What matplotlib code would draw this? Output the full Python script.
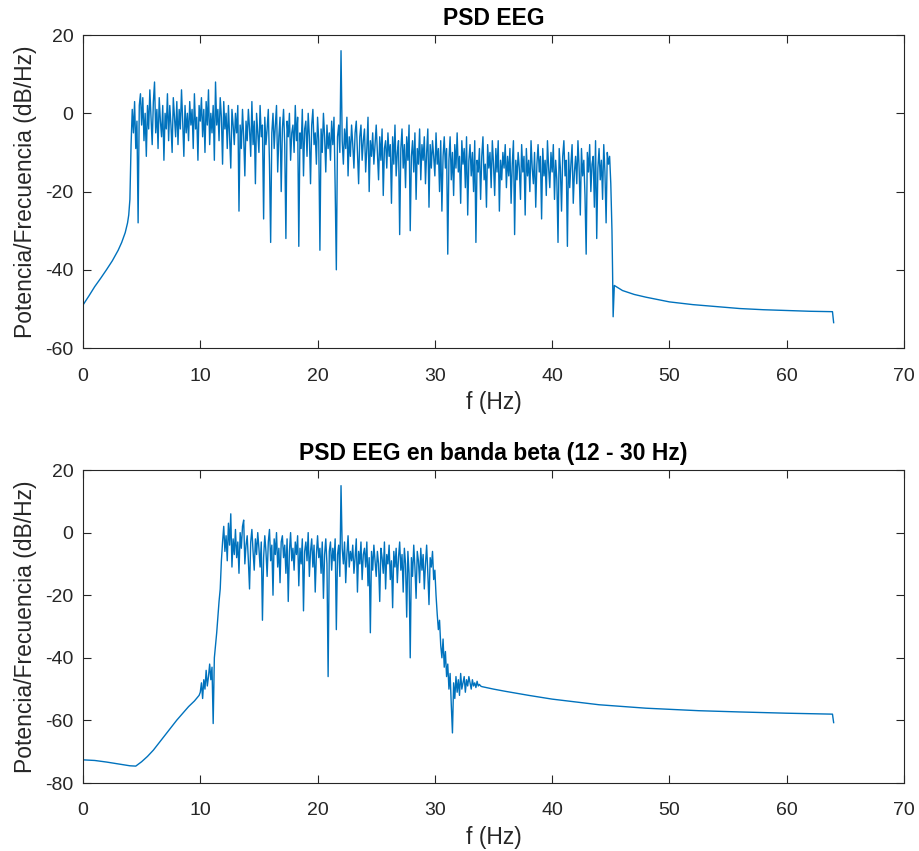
import numpy as np
import matplotlib.pyplot as plt

plt.rcParams['font.family'] = ['Liberation Sans', 'DejaVu Sans']
plt.rcParams['axes.unicode_minus'] = False

# ---- PSD EEG (full band) ----
# smooth rise before the band
f1_low = [0, 0.5, 1, 1.5, 2, 2.5, 3, 3.3, 3.6, 3.8, 3.9]
p1_low = [-49, -46.7, -44.3, -42.2, -40, -37.7, -35, -33, -30.5, -28, -26]

# noisy band 4.0 .. 45.1 Hz, step 0.1 Hz (one row per Hz)
p1_band = [
    -22, -8, 1, -5, 3, -9, -2, -28, 2, 5,
    -3, 4, -7, 0, -11, 2, -4, 6, -1, -8,
    3, 8, -5, 1, -9, 4, -2, -6, 2, -12,
    0, -4, 5, -7, 2, -3, -10, 4, -1, -6,
    3, -8, 1, -4, 6, -2, -11, 2, -5, 0,
    -7, 3, -3, 1, -9, 5, -4, -1, -12, 2,
    -2, 4, -6, 1, -10, 3, -3, 6, -8, 0,
    -5, 2, -12, 8, -3, 1, -7, 4, -1, -13,
    3, -4, 0, -9, 2, -6, -14, 1, -3, -8,
    0, -5, 2, -25, -3, -9, 1, -6, -16, -2,
    -7, 1, -4, -11, 3, -8, -2, -18, 0, -5,
    -10, 2, -6, -3, -27, -1, -8, -4, 1, -13,
    -33, -5, 0, -9, -3, 2, -15, -6, -1, -20,
    -4, 1, -8, -32, -2, -6, 0, -12, -5, -3,
    -10, 2, -7, -1, -34, -5, -9, 1, -16, -4,
    -2, -11, 0, -6, -18, -3, 1, -8, -5, -13,
    -1, -7, -35, -4, -10, 0, -6, -15, -3, -9,
    -5, -12, -2, -8, -1, -19, -40, -6, -3, -10,
    16, -7, -13, -4, -9, -1, -16, -6, -11, -3,
    -8, -14, -5, -2, -10, -18, -6, -3, -12, -7,
    -4, -15, -9, -1, -20, -7, -11, -5, -13, -8,
    -3, -10, -17, -6, -12, -4, -21, -9, -7, -14,
    -5, -11, -8, -23, -6, -13, -3, -16, -10, -7,
    -31, -9, -4, -14, -8, -19, -6, -12, -3, -30,
    -11, -7, -15, -5, -22, -9, -13, -4, -17, -8,
    -12, -6, -18, -10, -4, -24, -8, -14, -7, -11,
    -16, -5, -13, -9, -20, -7, -25, -11, -6, -14,
    -9, -36, -12, -6, -17, -10, -21, -8, -14, -5,
    -15, -11, -23, -7, -13, -9, -19, -6, -26, -12,
    -8, -16, -10, -20, -7, -33, -12, -15, -9, -22,
    -11, -6, -17, -13, -24, -8, -14, -10, -19, -7,
    -13, -21, -9, -15, -7, -25, -12, -17, -10, -14,
    -8, -19, -11, -16, -9, -23, -13, -7, -31, -12,
    -17, -10, -14, -22, -8, -15, -11, -26, -9, -16,
    -12, -20, -7, -14, -18, -10, -24, -13, -8, -15,
    -11, -27, -9, -16, -12, -21, -7, -14, -19, -10,
    -15, -8, -22, -12, -17, -33, -9, -14, -25, -11,
    -7, -16, -12, -34, -10, -19, -13, -8, -23, -15,
    -11, -18, -7, -14, -26, -9, -16, -12, -21, -36,
    -10, -15, -8, -20, -13, -11, -24, -7, -32, -14,
    -9, -17, -12, -22, -8, -15, -28, -10, -13, -11,
    -18, -30,
]
f1_band_start, f1_band_step = 4.0, 0.1

# tail after the band
f1_high = [45.15, 45.2, 45.3, 46, 47, 48, 50, 52, 54, 56, 58, 60, 62, 63.9, 64]
p1_high = [-40, -52, -44, -45.3, -46.3, -47, -48.2, -48.9, -49.4, -49.9, -50.2,
           -50.4, -50.6, -50.7, -53.5]

# ---- PSD EEG banda beta ----
f2_low = [0, 1, 2, 3, 4, 4.5, 5, 5.5, 6, 7, 8, 9, 9.5, 9.9]
p2_low = [-72.6, -72.8, -73.3, -73.9, -74.5, -74.6, -73.2, -71.5, -69.5, -64.7,
          -59.9, -55.6, -53.8, -52]

# noisy band 10.0 .. 33.9 Hz, step 0.1 Hz
p2_band = [
    -51, -48, -53, -47, -50, -44, -49, -46, -42, -47,
    -43, -61, -40, -36, -32, -27, -22, -18, -9, -3,
    2, -6, -1, -9, 3, -4, 6, -11, -2, -7,
    1, -8, -3, -13, 0, -5, 2, 4, -10, -4,
    -1, -9, -18, -3, 1, -6, -12, -2, -7, 0,
    -5, -11, -3, -28, -8, -1, -6, -14, -3, 1,
    -9, -4, -20, -2, -7, 0, -11, -5, -16, -3,
    -1, -8, -4, -13, -2, -22, -6, 0, -9, -5,
    -12, -3, -7, -1, -17, -5, -10, -2, -25, -6,
    -3, -9, 0, -14, -6, -2, -11, -4, -19, -7,
    -1, -8, -5, -13, -3, -21, -7, -2, -10, -46,
    -6, -3, -12, -5, -9, -2, -31, -7, -4, -14,
    15, -5, -10, -3, -16, -7, -1, -11, -6, -9,
    -4, -13, -8, -2, -19, -6, -10, -3, -15, -7,
    -5, -11, -3, -17, -8, -32, -6, -12, -4, -9,
    -14, -6, -10, -22, -5, -8, -13, -3, -18, -7,
    -10, -4, -15, -9, -24, -6, -11, -5, -16, -8,
    -3, -12, -7, -19, -5, -10, -27, -6, -13, -40,
    -8, -14, -4, -11, -21, -6, -9, -16, -5, -12,
    -7, -18, -10, -4, -13, -23, -8, -11, -6, -15,
    -12, -20, -26, -31, -28, -36, -40, -34, -43, -38,
    -46, -42, -50, -45, -55, -64, -48, -53, -46, -51,
    -47, -52, -45, -50, -48, -46, -51, -47, -49, -46,
    -48, -50, -47, -49, -48, -49.5, -47.5, -49, -48.5, -49,
]
f2_band_start, f2_band_step = 10.0, 0.1

f2_high = [34, 35, 36, 38, 40, 44, 48, 52.5, 56, 60, 63.9, 64]
p2_high = [-49.2, -50, -50.7, -52, -53.2, -55, -56.1, -56.9, -57.3, -57.7, -58, -60.7]


def join_psd(f_low, p_low, start, step, p_band, f_high, p_high):
    f_band = start + step * np.arange(len(p_band))
    f = np.concatenate([f_low, f_band, f_high])
    p = np.concatenate([p_low, p_band, p_high])
    return f, p


f1, p1 = join_psd(f1_low, p1_low, f1_band_start, f1_band_step, p1_band, f1_high, p1_high)
f2, p2 = join_psd(f2_low, p2_low, f2_band_start, f2_band_step, p2_band, f2_high, p2_high)

line_color = '#0072BD'
axis_color = '#262626'

fig = plt.figure(figsize=(9.19, 8.51), dpi=100)
ax1 = fig.add_axes([0.0903, 0.591, 0.8934, 0.3678])
ax2 = fig.add_axes([0.0903, 0.0799, 0.8934, 0.3678])

for ax, f, p, title, ylim, yticks in [
    (ax1, f1, p1, 'PSD EEG', (-60, 20), [-60, -40, -20, 0, 20]),
    (ax2, f2, p2, 'PSD EEG en banda beta (12 - 30 Hz)', (-80, 20), [-80, -60, -40, -20, 0, 20]),
]:
    ax.plot(f, p, color=line_color, linewidth=1.0)
    ax.set_xlim(0, 70)
    ax.set_ylim(*ylim)
    ax.set_xticks([0, 10, 20, 30, 40, 50, 60, 70])
    ax.set_yticks(yticks)
    ax.set_title(title, fontsize=16.5, fontweight='bold', color='black', pad=7)
    ax.set_xlabel('f (Hz)', fontsize=16.5, color=axis_color, labelpad=5)
    ax.set_ylabel('Potencia/Frecuencia (dB/Hz)', fontsize=16.5, color=axis_color, labelpad=6)
    ax.tick_params(direction='in', top=True, right=True, length=6, width=0.8,
                   colors=axis_color, labelsize=14)
    ax.tick_params(axis='x', pad=14)
    ax.tick_params(axis='y', pad=7)
    for sp in ax.spines.values():
        sp.set_color(axis_color)
        sp.set_linewidth(0.8)

fig.savefig('out.png', dpi=100)
